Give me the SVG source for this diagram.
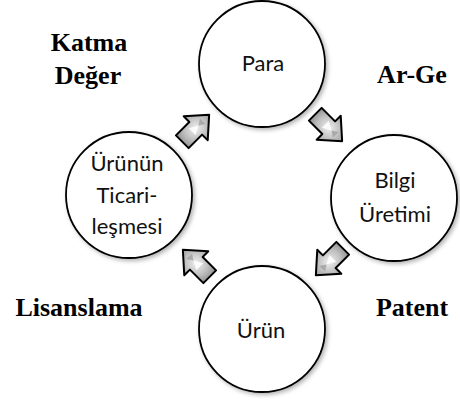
<svg xmlns="http://www.w3.org/2000/svg" width="460" height="401" viewBox="0 0 460 401">
  <defs>
    <filter id="soft" x="-20%" y="-20%" width="140%" height="140%">
      <feDropShadow dx="2" dy="2" stdDeviation="2" flood-color="#000" flood-opacity="0.3"/>
    </filter>
    <radialGradient id="steel" cx="50%" cy="50%" r="60%">
      <stop offset="0" stop-color="#f0f0f0"/>
      <stop offset="0.55" stop-color="#bdbdbd"/>
      <stop offset="1" stop-color="#858585"/>
    </radialGradient>
    <!-- short block arrow pointing along +x, centred on the origin -->
    <g id="arrow">
      <path d="M -18,-9 L 1,-9 L 1,-17 L 20,0 L 1,17 L 1,9 L -18,9 Z" fill="url(#steel)" stroke="#000" stroke-width="2" stroke-linejoin="round"/>
      <path d="M -4,-5 L 5,0 L -4,5 Z" fill="#ffffff" opacity="0.85"/>
      <path d="M 5,0 L 11,-4 L 11,4 Z" fill="#a0a0a0" opacity="0.8"/>
    </g>
  </defs>
  <style>
    .node circle { fill: #ffffff; stroke: #000000; stroke-width: 1.8; filter: url(#soft); }
    .node text { font-family: Lato, "Open Sans", sans-serif; font-size: 22px; fill: #111; text-anchor: middle; }
    text.tag { font-family: 'Liberation Serif', 'Times New Roman', 'DejaVu Serif', serif; font-weight: 700; font-size: 26px; fill: #000; text-anchor: middle; }
  </style>

  <g id="connectors">
    <use href="#arrow" transform="translate(195,129) rotate(-45)"/>
    <use href="#arrow" transform="translate(328,127) rotate(45)"/>
    <use href="#arrow" transform="translate(330,261) rotate(135)"/>
    <use href="#arrow" transform="translate(197,264) rotate(-135)"/>
  </g>

  <g id="para" class="node">
    <circle cx="262" cy="64" r="63"/>
    <text x="263" y="71">Para</text>
  </g>
  <g id="bilgi" class="node">
    <circle cx="394" cy="198" r="63"/>
    <text x="395" y="188">Bilgi</text>
    <text x="395" y="222">Üretimi</text>
  </g>
  <g id="urun" class="node">
    <circle cx="262" cy="329" r="63"/>
    <text x="261" y="338">Ürün</text>
  </g>
  <g id="ticari" class="node">
    <circle cx="129" cy="195" r="63"/>
    <text x="127" y="171">Ürünün</text>
    <text x="127" y="203">Ticari-</text>
    <text x="127" y="234">leşmesi</text>
  </g>

  <g id="labels">
    <text class="tag" x="89" y="51">Katma</text>
    <text class="tag" x="88" y="84">Değer</text>
    <text class="tag" x="412" y="83">Ar-Ge</text>
    <text class="tag" x="79" y="316">Lisanslama</text>
    <text class="tag" x="412" y="316">Patent</text>
  </g>
</svg>
